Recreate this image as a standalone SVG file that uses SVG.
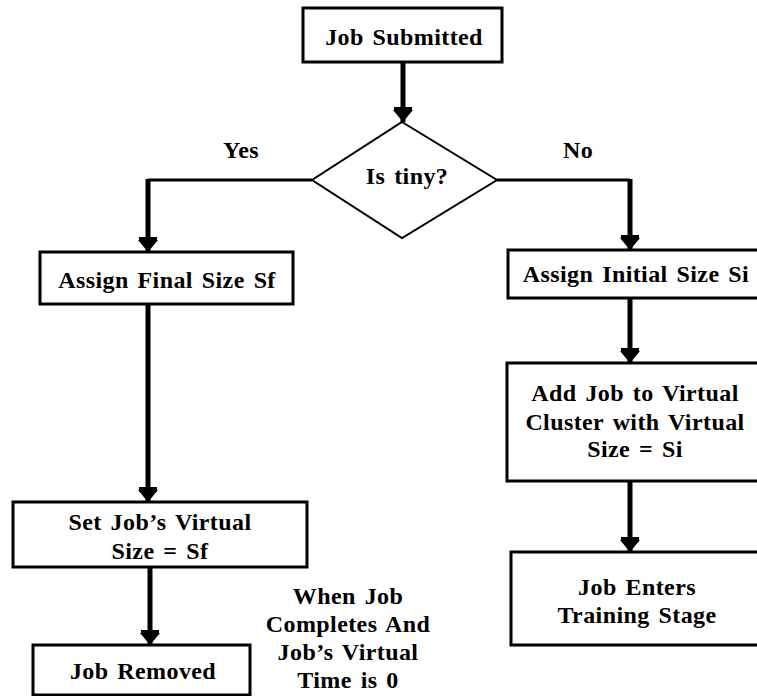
<svg xmlns="http://www.w3.org/2000/svg" width="757" height="696" viewBox="0 0 757 696">
<style>
.box{fill:#fff;stroke:#000;stroke-width:3}
.dia{fill:#fff;stroke:#000;stroke-width:2}
.t{font-family:'Liberation Serif','Times New Roman',serif;font-weight:700;font-size:24px;letter-spacing:0.4px;word-spacing:2.5px;text-anchor:middle;fill:#000}
.v{fill:none;stroke:#000;stroke-width:5}
.h{fill:none;stroke:#000;stroke-width:3}
</style>
<defs>
<marker id="ah" markerUnits="userSpaceOnUse" markerWidth="16" markerHeight="22" refX="15" refY="10" orient="auto" viewBox="0 0 16 20">
<path d="M0,1 L4,1 L9,6 L9,14 L4,19 L0,19 Z M3,0 L15,10 L3,20 Z" fill="#000"/>
</marker>
</defs>
<g id="connectors">
<path class="v" d="M403,62 V122" marker-end="url(#ah)"/>
<path class="h" d="M312,180 H148"/>
<path class="v" d="M148,179 V252" marker-end="url(#ah)"/>
<path class="h" d="M497,180 H630"/>
<path class="v" d="M630,179 V250" marker-end="url(#ah)"/>
<path class="v" d="M148,304 V502" marker-end="url(#ah)"/>
<path class="v" d="M150,567 V645" marker-end="url(#ah)"/>
<path class="v" d="M630,298 V363" marker-end="url(#ah)"/>
<path class="v" d="M630,481 V552" marker-end="url(#ah)"/>
</g>
<g id="job-submitted">
<rect class="box" x="303" y="8" width="199" height="54"/>
<text class="t" x="404" y="45">Job Submitted</text>
</g>
<g id="is-tiny">
<polygon class="dia" points="402,122 497,180 402,238 312,180"/>
<text class="t" x="407" y="184">Is tiny?</text>
</g>
<g id="label-yes"><text class="t" x="241" y="158">Yes</text></g>
<g id="label-no"><text class="t" x="578" y="158">No</text></g>
<g id="assign-final">
<rect class="box" x="40" y="252" width="253" height="52"/>
<text class="t" x="167" y="288">Assign Final Size Sf</text>
</g>
<g id="assign-initial">
<rect class="box" x="508" y="250" width="252" height="48"/>
<text class="t" x="636" y="282">Assign Initial Size Si</text>
</g>
<g id="add-job">
<rect class="box" x="507" y="363" width="253" height="118"/>
<text class="t" x="635" y="401">Add Job to Virtual</text>
<text class="t" x="635" y="430">Cluster with Virtual</text>
<text class="t" x="635" y="457">Size = Si</text>
</g>
<g id="job-enters">
<rect class="box" x="511" y="552" width="249" height="93"/>
<text class="t" x="637" y="595">Job Enters</text>
<text class="t" x="637" y="623">Training Stage</text>
</g>
<g id="set-virtual">
<rect class="box" x="13" y="502" width="294" height="65"/>
<text class="t" x="160" y="530">Set Job’s Virtual</text>
<text class="t" x="160" y="559">Size = Sf</text>
</g>
<g id="job-removed">
<rect class="box" x="33" y="645" width="217" height="50"/>
<text class="t" x="143" y="679">Job Removed</text>
</g>
<g id="note">
<text class="t" x="348" y="604">When Job</text>
<text class="t" x="348" y="632">Completes And</text>
<text class="t" x="348" y="660">Job’s Virtual</text>
<text class="t" x="348" y="688">Time is 0</text>
</g>
</svg>
